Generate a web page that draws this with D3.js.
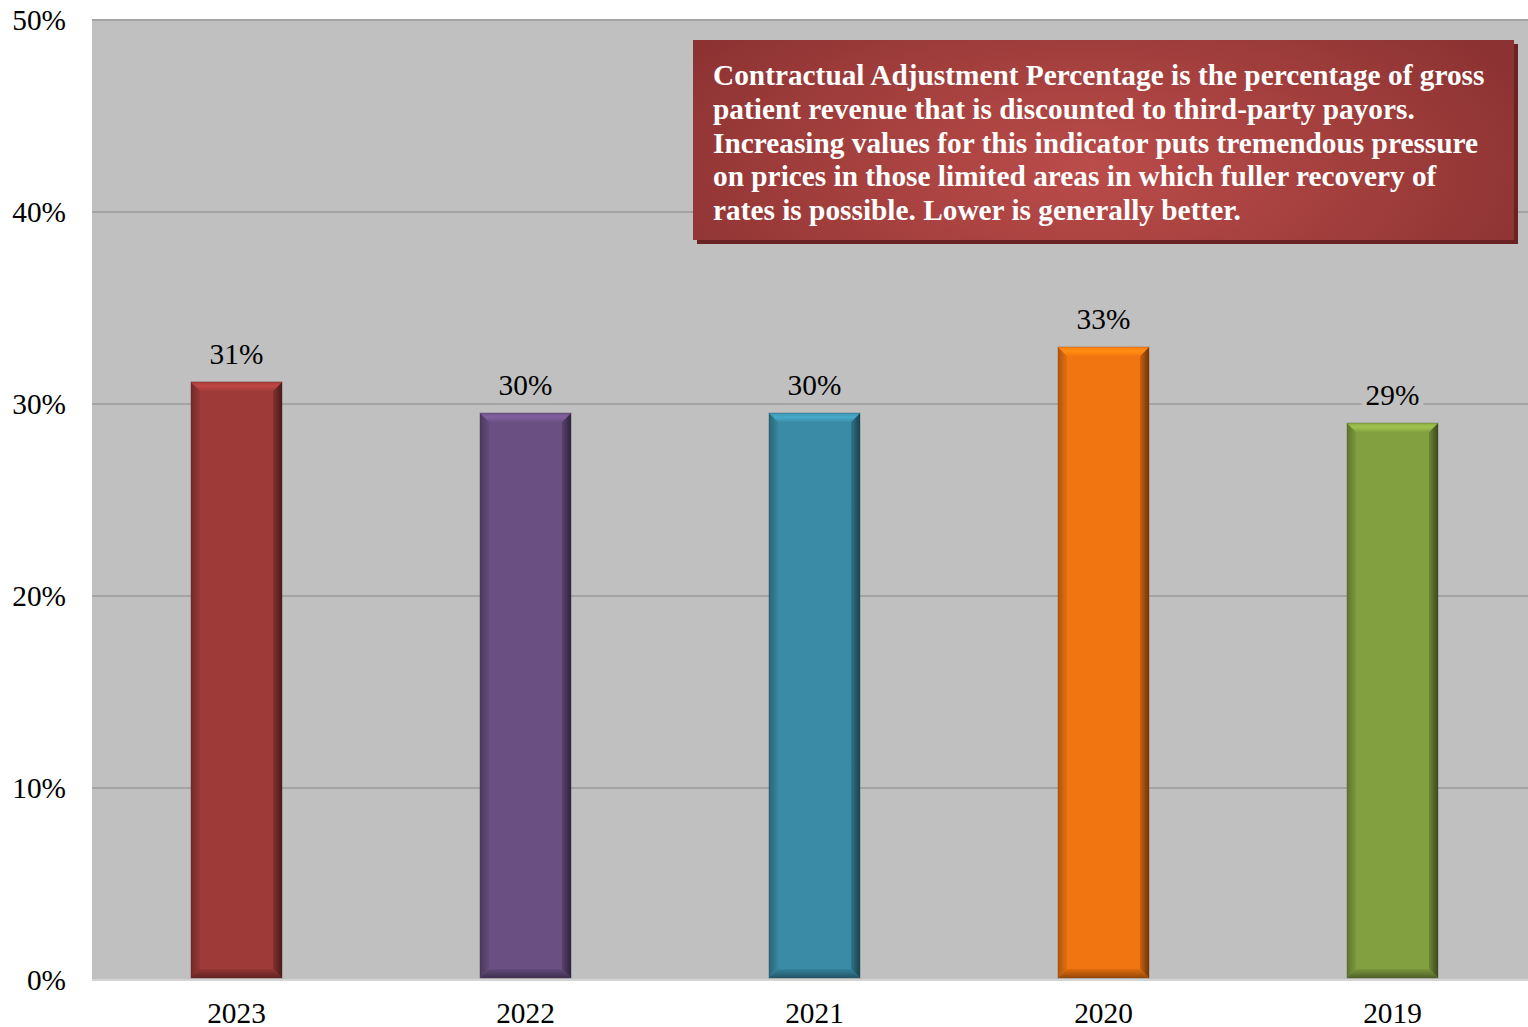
<!DOCTYPE html>
<html>
<head>
<meta charset="utf-8">
<script src="https://cdn.jsdelivr.net/npm/d3@7"></script>
<style>
  html, body { margin: 0; padding: 0; background: #ffffff; overflow: hidden; }
  svg { display: block; }
</style>
</head>
<body>
<svg id="chart" width="1528" height="1027"></svg>
<script>
// Contractual adjustment percentage by fiscal year
const years = ["2023", "2022", "2021", "2020", "2019"];
const values = [0.3115, 0.2953, 0.2953, 0.3297, 0.2901];
const valueLabels = ["31%", "30%", "30%", "33%", "29%"];
const barColors = ["#9e3a38", "#694f82", "#3a8ca6", "#f17510", "#82a040"];
const yTicks = [0, 0.1, 0.2, 0.3, 0.4, 0.5];
const noteLines = [
  "Contractual Adjustment Percentage is the percentage of gross",
  "patient revenue that is discounted to third-party payors.",
  "Increasing values for this indicator puts tremendous pressure",
  "on prices in those limited areas in which fuller recovery of",
  "rates is possible. Lower is generally better."
];

const W = 1528, H = 1027;
const plot = { left: 92, right: 1537, top: 20, bottom: 980 };
const svg = d3.select("#chart");
const serif = "'Liberation Serif', 'Times New Roman', serif";
const fs = 29.33;

const x = d3.scaleBand().domain(years).range([plot.left, plot.right]).paddingInner(0.685).paddingOuter(0.3425);
const y = d3.scaleLinear().domain([0, 0.5]).range([plot.bottom, plot.top]);

const defs = svg.append("defs");

// plot background
svg.append("rect")
  .attr("x", plot.left).attr("y", plot.top)
  .attr("width", plot.right - plot.left).attr("height", plot.bottom - plot.top)
  .attr("fill", "#c0c0c0");

// gridlines
svg.append("g").selectAll("line").data(yTicks).join("line")
  .attr("x1", plot.left).attr("x2", plot.right)
  .attr("y1", d => y(d)).attr("y2", d => y(d))
  .attr("stroke", d => d === 0 ? "#d4d4d4" : "#a3a3a3")
  .attr("stroke-width", 2);

// y axis labels
const yAxis = d3.axisLeft(y).tickValues(yTicks).tickFormat(d3.format(".0%")).tickSize(0).tickPadding(26);
const gy = svg.append("g").attr("transform", `translate(${plot.left},0)`).call(yAxis);
gy.select(".domain").remove();
gy.selectAll("text").attr("font-family", serif).attr("font-size", fs).attr("fill", "#000");

// x axis labels
const xAxis = d3.axisBottom(x).tickSize(0).tickPadding(22);
const gx = svg.append("g").attr("transform", `translate(0,${plot.bottom})`).call(xAxis);
gx.select(".domain").remove();
gx.selectAll("text").attr("font-family", serif).attr("font-size", fs).attr("fill", "#000");

// beveled bars
function shade(c, k) {
  const col = d3.color(c);
  return k > 0 ? col.brighter(k).formatHex() : col.darker(-k).formatHex();
}

const bars = svg.append("g");
years.forEach((yr, i) => {
  const x0 = x(yr), x1 = x0 + x.bandwidth();
  const y0 = y(values[i]), y1 = y(0) - 2;
  const b = 9;
  const c = barColors[i];
  const g = bars.append("g");

  const gl = defs.append("linearGradient").attr("id", "gl" + i).attr("x1", 0).attr("x2", 1).attr("y1", 0).attr("y2", 0);
  gl.append("stop").attr("offset", 0).attr("stop-color", shade(c, -0.9));
  gl.append("stop").attr("offset", 1).attr("stop-color", shade(c, -0.15));
  const gr = defs.append("linearGradient").attr("id", "gr" + i).attr("x1", 0).attr("x2", 1).attr("y1", 0).attr("y2", 0);
  gr.append("stop").attr("offset", 0).attr("stop-color", shade(c, -0.5));
  gr.append("stop").attr("offset", 1).attr("stop-color", shade(c, -2.2));
  const gt = defs.append("linearGradient").attr("id", "gt" + i).attr("x1", 0).attr("x2", 0).attr("y1", 0).attr("y2", 1);
  gt.append("stop").attr("offset", 0).attr("stop-color", shade(c, 0.2));
  gt.append("stop").attr("offset", 0.45).attr("stop-color", shade(c, 0.55));
  gt.append("stop").attr("offset", 1).attr("stop-color", shade(c, 0.05));
  const gb = defs.append("linearGradient").attr("id", "gb" + i).attr("x1", 0).attr("x2", 0).attr("y1", 0).attr("y2", 1);
  gb.append("stop").attr("offset", 0).attr("stop-color", shade(c, -0.2));
  gb.append("stop").attr("offset", 1).attr("stop-color", shade(c, -1.4));

  g.append("rect").attr("x", x0).attr("y", y0).attr("width", x1 - x0).attr("height", y1 - y0).attr("fill", c);
  g.append("polygon").attr("points", [[x0, y0], [x0 + b, y0 + b], [x0 + b, y1 - b], [x0, y1]].join(" ")).attr("fill", `url(#gl${i})`);
  g.append("polygon").attr("points", [[x1, y0], [x1 - b, y0 + b], [x1 - b, y1 - b], [x1, y1]].join(" ")).attr("fill", `url(#gr${i})`);
  g.append("polygon").attr("points", [[x0, y1], [x0 + b, y1 - b], [x1 - b, y1 - b], [x1, y1]].join(" ")).attr("fill", `url(#gb${i})`);
  g.append("polygon").attr("points", [[x0, y0], [x1, y0], [x1 - b, y0 + b], [x0 + b, y0 + b]].join(" ")).attr("fill", `url(#gt${i})`);
  g.append("rect").attr("x", x0).attr("y", y0).attr("width", x1 - x0).attr("height", y1 - y0)
    .attr("fill", "none").attr("stroke", shade(c, -1.6)).attr("stroke-opacity", 0.35).attr("stroke-width", 1);
});

// value labels with background
const labels = svg.append("g");
years.forEach((yr, i) => {
  const cx = x(yr) + x.bandwidth() / 2;
  const ty = y(values[i]) - 18;
  const t = labels.append("text")
    .attr("x", cx).attr("y", ty)
    .attr("text-anchor", "middle")
    .attr("font-family", serif).attr("font-size", fs).attr("fill", "#000")
    .text(valueLabels[i]);
  const bb = t.node().getBBox();
  labels.insert("rect", "text")
    .attr("x", bb.x - 4).attr("y", bb.y).attr("width", bb.width + 8).attr("height", bb.height + 2)
    .attr("fill", "#c0c0c0");
});

// explanatory note box
const box = { x: 693, y: 40, w: 821, h: 200 };
const rg = defs.append("radialGradient").attr("id", "noteGrad")
  .attr("gradientUnits", "userSpaceOnUse")
  .attr("cx", 1090).attr("cy", 170).attr("r", 480)
  .attr("gradientTransform", "translate(1090,170) scale(1,0.45) translate(-1090,-170)");
rg.append("stop").attr("offset", 0).attr("stop-color", "#bb4c4a");
rg.append("stop").attr("offset", 0.55).attr("stop-color", "#a23f3d");
rg.append("stop").attr("offset", 1).attr("stop-color", "#8c3232");

svg.append("rect").attr("x", box.x + 4).attr("y", box.y + 4).attr("width", box.w).attr("height", box.h).attr("fill", "#6b2222");
svg.append("rect").attr("x", box.x).attr("y", box.y).attr("width", box.w).attr("height", box.h).attr("fill", "url(#noteGrad)");

svg.append("g").selectAll("text").data(noteLines).join("text")
  .attr("x", box.x + 20)
  .attr("y", (d, i) => 85 + i * 33.8)
  .attr("font-family", serif).attr("font-size", fs).attr("font-weight", "bold")
  .attr("fill", "#ffffff")
  .text(d => d);
</script>
</body>
</html>
